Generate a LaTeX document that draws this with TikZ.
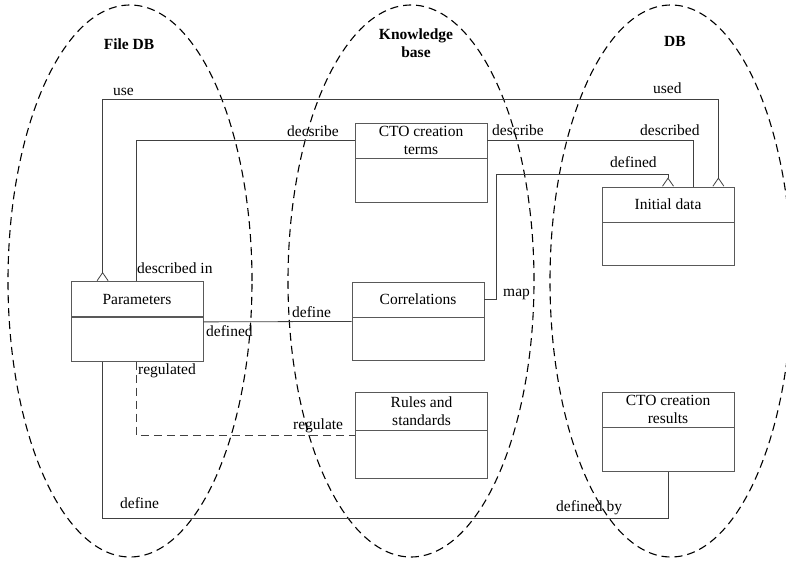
\documentclass[tikz,border=0pt]{standalone}
\usepackage{fontspec}
\setmainfont{Liberation Serif}
\usetikzlibrary{positioning,arrows.meta}

\newcommand{\dfont}{\fontsize{15.5}{18}\selectfont}

\tikzset{
  head/.style={draw=black!65, line width=0.8pt, minimum width=132pt, minimum height=35pt, inner sep=1pt, align=center},
  body/.style={draw=black!65, line width=0.8pt, minimum width=132pt, minimum height=44pt, inner sep=0pt},
  conn/.style={draw=black!75, line width=0.8pt},
  zone/.style={draw=black, line width=1.1pt, dash pattern=on 8pt off 5pt},
  lbl/.style={anchor=base west, inner sep=0pt},
  title/.style={font=\dfont\bfseries, align=center, inner sep=0pt},
  crow/.tip={Straight Barb[reversed, length=8pt, width=11pt]}
}

\begin{document}
\begin{tikzpicture}[x=1pt, y=-1pt, every node/.append style={font=\dfont}]
  \useasboundingbox (0,0) rectangle (786,561);

  % the three stores
  \draw[zone] (130,281) ellipse [x radius=122pt, y radius=276pt];
  \draw[zone] (411,281) ellipse [x radius=123pt, y radius=276pt];
  \draw[zone] (671,281) ellipse [x radius=121pt, y radius=276pt];

  \node[title, anchor=base] (tfile) at (129,50) {File DB};
  \node[title] (tknow) at (416,43.5) {Knowledge\\base};
  \node[title, anchor=base] (tdb) at (675,47) {DB};

  % classes
  \node[head] (parh) at (137,299) {Parameters};
  \node[body, below=0pt of parh] (parb) {};
  \node[head] (cteh) at (421,140.5) {CTO creation\\terms};
  \node[body, below=0pt of cteh] (cteb) {};
  \node[head] (inih) at (668,204.5) {Initial data};
  \node[body, below=0pt of inih, minimum height=43pt] (inib) {};
  \node[head] (corh) at (418,299.5) {Correlations};
  \node[body, below=0pt of corh, minimum height=43pt] (corb) {};
  \node[head, minimum height=38pt] (rulh) at (421.5,411) {Rules and\\standards};
  \node[body, below=0pt of rulh, minimum height=48pt] (rulb) {};
  \node[head] (resh) at (668,409.5) {CTO creation\\results};
  \node[body, below=0pt of resh] (resb) {};

  % links
  \draw[conn, {crow}-{crow}] ([xshift=32pt]parh.north west) |- ([xshift=-16pt, yshift=87pt]inih.north east) -- ([xshift=-16pt]inih.north east);
  \draw[conn] ([xshift=66pt]parh.north west) |- (cteh.west);
  \draw[conn] (cteh.east) -| ([xshift=25pt]inih.north);
  \draw[conn, -{crow}] (corh.east) -- ([xshift=12pt]corh.east) |- ([yshift=12pt]inih.north) -- (inih.north);
  \draw[conn] ([yshift=-5pt]parb.north east) -- ([yshift=-4pt]corb.north west);
  \draw[conn, dash pattern=on 8pt off 5pt] ([xshift=66pt]parb.south west) |- ([yshift=-5pt]rulb.north west);
  \draw[conn] ([xshift=32pt]parb.south west) |- ([yshift=-46pt]resb.south) -- (resb.south);

  % labels
  \node[lbl] (luse) at (113,96) {use};
  \node[lbl] (lused) at (653,94) {used};
  \node[lbl] (ldec) at (287,137) {decsribe};
  \node[lbl] (ldes) at (492,136) {describe};
  \node[lbl] (ldesd) at (640,136) {described};
  \node[lbl] (ldesin) at (137,273) {described in};
  \node[lbl] (ldefd) at (610,168) {defined};
  \node[lbl] (lmap) at (503,296) {map};
  \node[lbl] (ldef) at (292,317) {define};
  \node[lbl] (ldefn) at (206,336) {defined};
  \node[lbl] (lregd) at (138,374) {regulated};
  \node[lbl] (lreg) at (293,429) {regulate};
  \node[lbl] (ldefb) at (120,508) {define};
  \node[lbl] (ldefby) at (556,511) {defined by};
\end{tikzpicture}
\end{document}
